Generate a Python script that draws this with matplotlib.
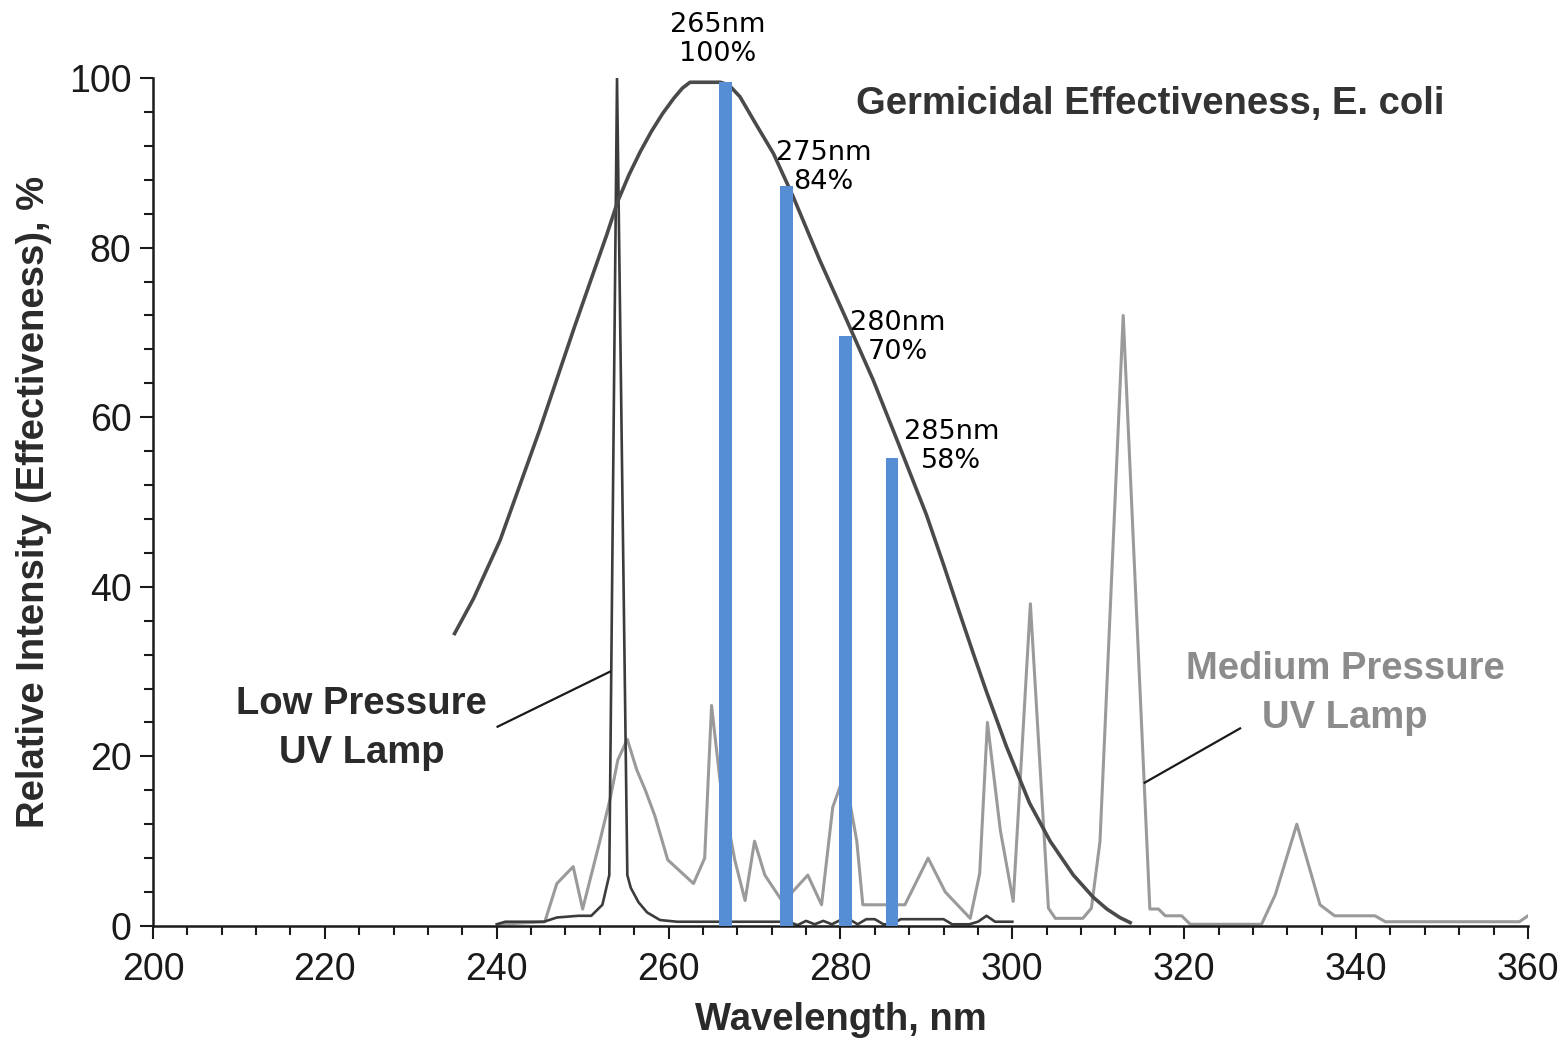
import matplotlib.pyplot as plt
from matplotlib.ticker import MultipleLocator

# germicidal effectiveness curve (E. coli)
germ_wl = [235.0, 237.3, 240.4, 242.7, 245.0, 247.0, 249.0, 251.0, 252.8, 254.1, 255.4,
           256.7, 258.0, 259.3, 260.6, 261.6, 262.5, 266.0, 267.0, 268.3, 270.2, 272.2,
           274.5, 277.6, 280.7, 283.8, 286.9, 290.0, 292.0, 293.9, 295.5, 297.0, 299.3, 302.0,
           304.4, 307.1, 309.4, 311.0, 312.5, 313.9]
germ_val = [34.3, 38.6, 45.5, 52.0, 58.5, 64.5, 70.5, 76.3, 81.5, 85.5, 88.6,
            91.3, 93.7, 95.8, 97.6, 98.8, 99.5, 99.5, 99.2, 97.8, 94.5, 91.1,
            86.0, 78.5, 71.5, 64.4, 56.5, 48.5, 42.6, 36.8, 32.0, 27.6, 21.2, 14.5,
            10.0, 6.0, 3.4, 2.0, 1.0, 0.3]

# low pressure UV lamp
low_wl = [240, 241, 245.5, 247, 249.5, 251, 252.3, 253.1, 254.0, 255.2, 255.6, 256.5, 257.5,
          259, 261, 270, 274, 275, 276, 277, 278, 279, 280, 281, 282, 283, 284, 285, 286,
          287, 288, 289, 290, 291, 292, 293, 295, 296, 297, 298, 300]
low_val = [0.2, 0.5, 0.5, 1.0, 1.2, 1.2, 2.5, 6, 100, 6, 4.5, 2.8, 1.6,
           0.7, 0.5, 0.5, 0.5, 0.1, 0.6, 0.2, 0.6, 0.2, 0.7, 0.8, 0.2, 0.8, 0.8, 0.2, 0.2,
           0.8, 0.8, 0.8, 0.8, 0.8, 0.8, 0.2, 0.2, 0.5, 1.2, 0.5, 0.5]

# medium pressure UV lamp
med_wl = [240.4, 245.6, 247, 248.9, 250, 252, 253.2, 254.1, 255.2, 256.3, 257.3, 258.4, 259.9,
          262.9, 264.2, 265, 266, 267.7, 268.9, 270, 271.2, 273.5, 274.4, 276.2, 277.8, 279.1,
          280.5, 281.9, 282.6, 287.5, 290.2, 292.2, 295.1, 296.2, 297.1, 298.6, 300.1, 302.1,
          304.2, 305, 308.2, 309.2, 310.2, 312.9, 316, 317, 317.8, 319.7, 320.7, 329, 330.6,
          333.1, 335.8, 337.5, 342.2, 343.4, 359, 360]
med_val = [0.2, 0.5, 5, 7, 2, 10, 15, 19.6, 22, 18.4, 16, 13, 7.8,
           5, 8, 26, 17, 7.8, 3, 10, 6, 2.5, 4, 6, 2.5, 14,
           18, 10, 2.5, 2.5, 8, 4, 0.9, 6.2, 24, 11.3, 2.9, 38,
           2.1, 0.9, 0.9, 2.1, 10, 72, 2, 2, 1.2, 1.2, 0.2, 0.2, 3.7,
           12, 2.5, 1.2, 1.2, 0.5, 0.5, 1.2]

# highlighted wavelengths
bar_wl = [266.6, 273.7, 280.6, 286.0]
bar_val = [99.5, 87.3, 69.6, 55.2]
bar_labels = ["265nm\n100%", "275nm\n84%", "280nm\n70%", "285nm\n58%"]
label_wl = [265.7, 278.0, 286.7, 292.9]
label_val = [104.6, 89.5, 69.4, 56.5]

xticks = [200, 220, 240, 260, 280, 300, 320, 340, 360]
yticks = [0, 20, 40, 60, 80, 100]

plt.rcParams['font.family'] = ['Liberation Sans', 'DejaVu Sans']

fig = plt.figure(figsize=(15.67, 10.43), dpi=100)
ax = fig.add_axes([0.0976, 0.1122, 0.8775, 0.813])

ax.plot(germ_wl, germ_val, color="#4a4a4a", lw=2.6, solid_capstyle="butt",
        solid_joinstyle="round", zorder=3)
ax.plot(med_wl, med_val, color="#9a9a9a", lw=2.2, zorder=2)
ax.plot(low_wl, low_val, color="#3c3c3c", lw=1.9, zorder=2)

ax.bar(bar_wl, bar_val, width=1.5, color="#558ed5", zorder=4)
for wl, v, t in zip(label_wl, label_val, bar_labels):
    ax.text(wl, v, t, ha="center", va="center", fontsize=19.5, family="DejaVu Sans",
            linespacing=1.15, clip_on=False, zorder=5)

# lamp labels with leader lines
ax.plot([240.1, 253.2], [23.5, 30], color="#1a1a1a", lw=1.6)
ax.plot([315.4, 326.5], [16.9, 23.3], color="#1a1a1a", lw=1.6)
ax.text(224.3, 23.3, "Low Pressure\nUV Lamp", ha="center", va="center", fontsize=27.5,
        fontweight="bold", color="#2a2a2a", linespacing=1.45)
ax.text(338.7, 27.4, "Medium Pressure\nUV Lamp", ha="center", va="center", fontsize=27.5,
        fontweight="bold", color="#8c8c8c", linespacing=1.45)
ax.text(316.0, 96.9, "Germicidal Effectiveness, E. coli", ha="center", va="center",
        fontsize=27.5, fontweight="bold", color="#333333")

ax.set_xlim(200, 360)
ax.set_ylim(0, 100)
ax.set_xticks(xticks)
ax.set_yticks(yticks)
ax.xaxis.set_minor_locator(MultipleLocator(4))
ax.yaxis.set_minor_locator(MultipleLocator(4))
ax.tick_params(which="major", direction="out", length=9.4, width=1.5, labelsize=27,
               colors="#1a1a1a")
ax.tick_params(which="minor", direction="out", length=6.5, width=1.5, colors="#1a1a1a")
ax.tick_params(axis="x", which="major", pad=9.5)
ax.tick_params(axis="y", which="major", pad=6)
for s in ["top", "right"]:
    ax.spines[s].set_visible(False)
for s in ["left", "bottom"]:
    ax.spines[s].set_linewidth(1.8)
    ax.spines[s].set_color("#1a1a1a")

ax.set_xlabel("Wavelength, nm", fontsize=27.5, fontweight="bold", color="#2a2a2a", labelpad=10)
ax.set_ylabel("Relative Intensity (Effectiveness), %", fontsize=27.5, fontweight="bold",
              color="#2a2a2a", labelpad=12)

fig.savefig("out.png", dpi=100)
